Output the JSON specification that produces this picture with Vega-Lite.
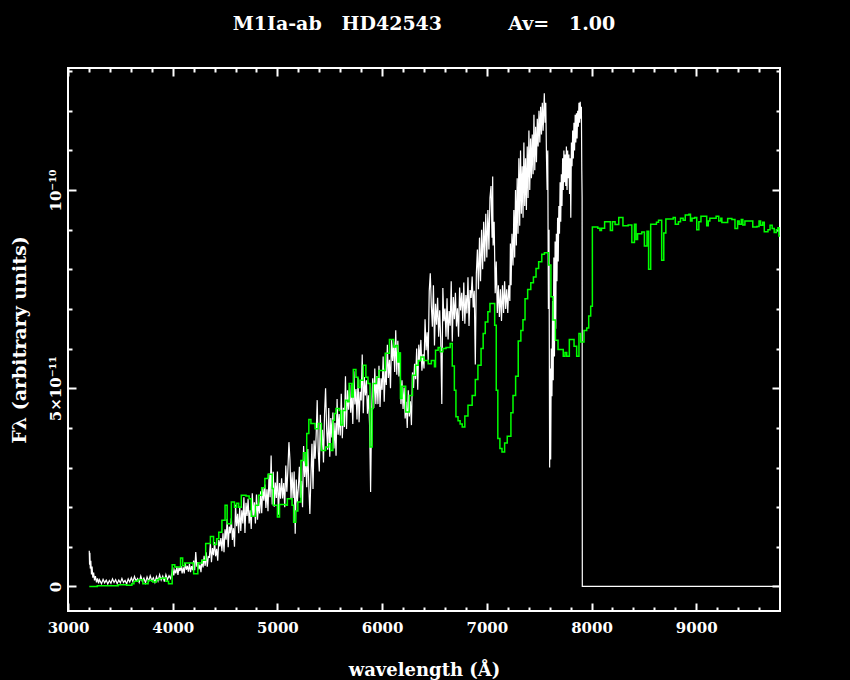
{
  "$schema": "https://vega.github.io/schema/vega-lite/v6.json",
  "width": 712,
  "height": 543,
  "autosize": {"type": "none"},
  "padding": {"left": 68, "top": 68, "right": 70, "bottom": 69},
  "background": "black",
  "view": {"stroke": "white", "strokeWidth": 2, "fill": "black"},
  "title": {
    "text": "M1Ia-ab\u00a0\u00a0\u00a0HD42543\u00a0\u00a0\u00a0\u00a0\u00a0\u00a0\u00a0\u00a0\u00a0\u00a0Av=\u00a0\u00a0\u00a01.00",
    "color": "white",
    "font": "DejaVu Serif",
    "fontSize": 19,
    "fontWeight": "bold",
    "anchor": "middle",
    "offset": 33
  },
  "config": {
    "axis": {
      "domain": false,
      "grid": false,
      "tickColor": "white",
      "tickWidth": 2,
      "labelColor": "white",
      "titleColor": "white",
      "labelFont": "DejaVu Serif",
      "titleFont": "DejaVu Serif",
      "labelFontSize": 15,
      "titleFontSize": 18,
      "labelFontWeight": "bold",
      "titleFontWeight": "bold",
      "labelFlush": false,
      "labelOverlap": false,
      "labelBound": false
    }
  },
  "datasets": {
    "white": [
      {"w":3203,"f":0.9},{"w":3206,"f":0.55},{"w":3209,"f":0.85},{"w":3213,"f":0.45},{"w":3218,"f":0.65},{"w":3224,"f":0.3},{"w":3230,"f":0.5},{"w":3237,"f":0.22},{"w":3245,"f":0.35},{"w":3253,"f":0.15},{"w":3262,"f":0.26},{"w":3272,"f":0.1},{"w":3282,"f":0.2},{"w":3292,"f":0.08},
      {"w":3300,"f":0.17},{"w":3320,"f":0.07},{"w":3335,"f":0.18},{"w":3350,"f":0.09},{"w":3365,"f":0.16},{"w":3380,"f":0.06},{"w":3395,"f":0.15},{"w":3410,"f":0.08},{"w":3425,"f":0.19},{"w":3440,"f":0.1},{"w":3455,"f":0.17},{"w":3470,"f":0.07},{"w":3485,"f":0.16},{"w":3500,"f":0.09},{"w":3515,"f":0.2},{"w":3530,"f":0.1},{"w":3545,"f":0.15},{"w":3560,"f":0.06},{"w":3575,"f":0.19},{"w":3590,"f":0.11},{"w":3605,"f":0.22},{"w":3620,"f":0.12},{"w":3635,"f":0.25},{"w":3650,"f":0.14},{"w":3665,"f":0.2},{"w":3680,"f":0.1},{"w":3695,"f":0.26},{"w":3710,"f":0.13},{"w":3725,"f":0.21},{"w":3740,"f":0.09},{"w":3755,"f":0.24},{"w":3770,"f":0.13},{"w":3785,"f":0.27},{"w":3800,"f":0.15},{"w":3815,"f":0.22},{"w":3830,"f":0.1},{"w":3845,"f":0.25},{"w":3860,"f":0.14},{"w":3875,"f":0.3},{"w":3890,"f":0.16},{"w":3905,"f":0.26},{"w":3920,"f":0.12},{"w":3935,"f":0.3},{"w":3950,"f":0.17},{"w":3965,"f":0.27},{"w":3980,"f":0.2},{"w":3993,"f":0.35},
      {"w":4000,"f":0.48},{"w":4010,"f":0.28},{"w":4020,"f":0.41},{"w":4030,"f":0.33},{"w":4040,"f":0.5},
      {"w":4050,"f":0.29},{"w":4060,"f":0.48},{"w":4070,"f":0.39},{"w":4080,"f":0.51},{"w":4090,"f":0.33},
      {"w":4100,"f":0.48},{"w":4110,"f":0.33},{"w":4120,"f":0.59},{"w":4130,"f":0.42},{"w":4140,"f":0.52},
      {"w":4150,"f":0.37},{"w":4160,"f":0.57},{"w":4170,"f":0.36},{"w":4180,"f":0.51},{"w":4190,"f":0.41},
      {"w":4200,"f":0.65},{"w":4210,"f":0.41},{"w":4220,"f":0.87},{"w":4230,"f":0.5},{"w":4240,"f":0.61},
      {"w":4250,"f":0.43},{"w":4260,"f":0.55},{"w":4270,"f":0.36},{"w":4280,"f":0.68},{"w":4290,"f":0.48},
      {"w":4300,"f":0.77},{"w":4310,"f":0.52},{"w":4320,"f":0.86},{"w":4330,"f":0.5},{"w":4340,"f":0.75},
      {"w":4350,"f":0.74},{"w":4360,"f":1.1},{"w":4370,"f":0.61},{"w":4380,"f":0.97},{"w":4390,"f":0.79},
      {"w":4400,"f":1.12},{"w":4410,"f":0.76},{"w":4420,"f":0.95},{"w":4430,"f":0.65},{"w":4440,"f":1.17},
      {"w":4450,"f":1.01},{"w":4460,"f":1.22},{"w":4470,"f":0.89},{"w":4480,"f":1.34},{"w":4490,"f":0.86},
      {"w":4500,"f":1.44},{"w":4510,"f":1.18},{"w":4520,"f":1.7},{"w":4530,"f":0.99},{"w":4540,"f":1.51},
      {"w":4550,"f":1.34},{"w":4560,"f":1.72},{"w":4570,"f":1.17},{"w":4580,"f":1.47},{"w":4590,"f":1.0},
      {"w":4600,"f":2.06},{"w":4610,"f":1.52},{"w":4620,"f":1.83},{"w":4630,"f":1.34},{"w":4640,"f":2.01},
      {"w":4650,"f":1.4},{"w":4660,"f":1.92},{"w":4670,"f":1.59},{"w":4680,"f":2.25},{"w":4690,"f":1.35},
      {"w":4700,"f":2.11},{"w":4710,"f":1.78},{"w":4720,"f":2.21},{"w":4730,"f":1.59},{"w":4740,"f":1.92},
      {"w":4750,"f":1.45},{"w":4760,"f":2.35},{"w":4770,"f":1.78},{"w":4780,"f":2.12},{"w":4790,"f":1.59},
      {"w":4800,"f":2.32},{"w":4810,"f":1.68},{"w":4820,"f":2.12},{"w":4830,"f":1.84},{"w":4840,"f":2.4},
      {"w":4850,"f":1.85},{"w":4860,"f":2.48},{"w":4870,"f":2.16},{"w":4880,"f":2.57},{"w":4890,"f":1.98},
      {"w":4900,"f":2.45},{"w":4910,"f":1.9},{"w":4920,"f":2.85},{"w":4930,"f":2.25},{"w":4940,"f":3.3},
      {"w":4950,"f":2.07},{"w":4960,"f":2.89},{"w":4970,"f":2.01},{"w":4980,"f":2.62},{"w":4990,"f":2.23},
      {"w":5000,"f":2.9},{"w":5010,"f":1.81},{"w":5020,"f":2.61},{"w":5030,"f":2.21},{"w":5040,"f":2.73},
      {"w":5050,"f":2.22},{"w":5060,"f":2.61},{"w":5070,"f":2.0},{"w":5080,"f":3.05},{"w":5090,"f":2.39},
      {"w":5100,"f":2.94},{"w":5110,"f":3.64},{"w":5120,"f":3.18},{"w":5130,"f":2.22},{"w":5140,"f":2.88},
      {"w":5150,"f":2.23},{"w":5160,"f":2.9},{"w":5170,"f":1.33},{"w":5180,"f":2.7},{"w":5190,"f":2.12},
      {"w":5200,"f":2.48},{"w":5210,"f":3.02},{"w":5220,"f":2.24},{"w":5230,"f":2.66},{"w":5240,"f":2.0},
      {"w":5250,"f":3.54},{"w":5260,"f":2.76},{"w":5270,"f":3.21},{"w":5280,"f":2.5},{"w":5290,"f":3.47},
      {"w":5300,"f":2.52},{"w":5310,"f":1.83},{"w":5320,"f":2.76},{"w":5330,"f":3.6},{"w":5340,"f":2.46},
      {"w":5350,"f":3.68},{"w":5360,"f":3.22},{"w":5370,"f":3.81},{"w":5380,"f":4.7},{"w":5390,"f":3.42},
      {"w":5400,"f":2.9},{"w":5410,"f":4.33},{"w":5420,"f":3.43},{"w":5430,"f":3.95},{"w":5440,"f":3.13},
      {"w":5450,"f":4.35},{"w":5460,"f":5.0},{"w":5470,"f":3.98},{"w":5480,"f":3.45},{"w":5490,"f":4.5},
      {"w":5500,"f":3.27},{"w":5510,"f":4.25},{"w":5520,"f":3.76},{"w":5530,"f":4.39},{"w":5540,"f":3.48},
      {"w":5550,"f":4.13},{"w":5560,"f":3.3},{"w":5570,"f":4.73},{"w":5580,"f":3.83},{"w":5590,"f":4.35},
      {"w":5600,"f":3.81},{"w":5610,"f":4.86},{"w":5620,"f":3.74},{"w":5630,"f":4.51},{"w":5640,"f":4.02},
      {"w":5650,"f":5.3},{"w":5660,"f":3.97},{"w":5670,"f":4.95},{"w":5680,"f":4.46},{"w":5690,"f":5.09},
      {"w":5700,"f":4.38},{"w":5710,"f":4.87},{"w":5720,"f":4.1},{"w":5730,"f":5.43},{"w":5740,"f":4.59},
      {"w":5750,"f":4.98},{"w":5760,"f":4.21},{"w":5770,"f":5.26},{"w":5780,"f":4.14},{"w":5790,"f":4.91},
      {"w":5800,"f":4.69},{"w":5810,"f":5.85},{"w":5820,"f":4.37},{"w":5830,"f":5.28},{"w":5840,"f":4.82},
      {"w":5850,"f":5.2},{"w":5860,"f":4.36},{"w":5870,"f":4.82},{"w":5880,"f":4.1},{"w":5890,"f":2.38},
      {"w":5900,"f":4.4},{"w":5910,"f":5.25},{"w":5920,"f":4.5},{"w":5930,"f":5.5},{"w":5940,"f":4.6},
      {"w":5950,"f":5.31},{"w":5960,"f":4.6},{"w":5970,"f":5.57},{"w":5980,"f":4.53},{"w":5990,"f":5.25},
      {"w":6000,"f":4.96},{"w":6010,"f":5.8},{"w":6020,"f":4.66},{"w":6030,"f":5.5},{"w":6040,"f":5.08},
      {"w":6050,"f":6.1},{"w":6060,"f":5.26},{"w":6070,"f":5.72},{"w":6080,"f":5.0},{"w":6090,"f":6.24},
      {"w":6100,"f":5.69},{"w":6110,"f":6.18},{"w":6120,"f":5.41},{"w":6130,"f":6.46},{"w":6140,"f":5.34},
      {"w":6150,"f":6.2},{"w":6160,"f":5.3},{"w":6170,"f":5.9},{"w":6180,"f":4.6},{"w":6190,"f":5.2},
      {"w":6200,"f":4.48},{"w":6210,"f":5.02},{"w":6220,"f":4.24},{"w":6230,"f":4.66},{"w":6240,"f":4.0},
      {"w":6250,"f":4.95},{"w":6260,"f":4.29},{"w":6270,"f":4.67},{"w":6280,"f":4.07},{"w":6290,"f":5.4},
      {"w":6300,"f":5.01},{"w":6310,"f":5.62},{"w":6320,"f":5.23},{"w":6330,"f":6.0},{"w":6340,"f":4.96},
      {"w":6350,"f":6.1},{"w":6360,"f":5.68},{"w":6370,"f":6.22},{"w":6380,"f":5.44},{"w":6390,"f":5.86},
      {"w":6400,"f":5.5},{"w":6410,"f":6.74},{"w":6420,"f":5.96},{"w":6430,"f":6.41},{"w":6440,"f":5.7},
      {"w":6450,"f":7.45},{"w":6460,"f":7.9},{"w":6470,"f":7.08},{"w":6480,"f":6.55},{"w":6490,"f":7.6},
      {"w":6500,"f":6.08},{"w":6510,"f":7.13},{"w":6520,"f":6.6},{"w":6530,"f":7.28},{"w":6540,"f":6.3},
      {"w":6550,"f":6.97},{"w":6560,"f":6.2},{"w":6570,"f":4.6},{"w":6580,"f":7.53},{"w":6590,"f":6.69},
      {"w":6600,"f":7.01},{"w":6610,"f":6.3},{"w":6620,"f":7.27},{"w":6630,"f":6.23},{"w":6640,"f":6.95},
      {"w":6650,"f":6.58},{"w":6660,"f":7.7},{"w":6670,"f":6.18},{"w":6680,"f":7.3},{"w":6690,"f":6.74},
      {"w":6700,"f":7.41},{"w":6710,"f":6.56},{"w":6720,"f":7.02},{"w":6730,"f":6.3},{"w":6740,"f":7.54},
      {"w":6750,"f":6.96},{"w":6760,"f":7.41},{"w":6770,"f":6.7},{"w":6780,"f":7.67},{"w":6790,"f":6.63},
      {"w":6800,"f":7.35},{"w":6810,"f":6.89},{"w":6820,"f":7.8},{"w":6830,"f":6.57},{"w":6840,"f":7.48},
      {"w":6850,"f":7.28},{"w":6860,"f":7.82},{"w":6870,"f":7.04},{"w":6880,"f":7.46},{"w":6890,"f":5.6},
      {"w":6900,"f":7.9},{"w":6910,"f":8.5},{"w":6920,"f":7.5},{"w":6930,"f":8.8},{"w":6940,"f":7.7},
      {"w":6950,"f":9.0},{"w":6960,"f":8.0},{"w":6970,"f":9.2},{"w":6980,"f":8.2},{"w":6990,"f":9.4},
      {"w":7000,"f":8.3},{"w":7010,"f":9.5},{"w":7020,"f":8.5},{"w":7030,"f":9.8},{"w":7040,"f":10.1},
      {"w":7050,"f":8.8},{"w":7056,"f":10.34},{"w":7060,"f":8.6},{"w":7070,"f":9.2},{"w":7080,"f":7.4},{"w":7090,"f":8.2},
      {"w":7100,"f":6.9},{"w":7110,"f":7.6},{"w":7120,"f":6.8},{"w":7130,"f":7.5},{"w":7140,"f":6.7},
      {"w":7150,"f":7.6},{"w":7160,"f":6.9},{"w":7170,"f":7.7},{"w":7180,"f":7.0},{"w":7190,"f":7.5},
      {"w":7200,"f":6.9},{"w":7210,"f":7.6},{"w":7220,"f":7.2},{"w":7225,"f":8.65},{"w":7232,"f":7.6},{"w":7240,"f":8.9},
      {"w":7250,"f":8.1},{"w":7258,"f":9.5},{"w":7266,"f":8.3},{"w":7274,"f":10.0},{"w":7282,"f":8.6},
      {"w":7290,"f":10.3},{"w":7298,"f":8.9},{"w":7306,"f":10.8},{"w":7314,"f":9.1},{"w":7322,"f":11.0},{"w":7330,"f":9.4},
      {"w":7338,"f":10.6},{"w":7346,"f":9.3},{"w":7354,"f":11.2},{"w":7362,"f":9.6},{"w":7370,"f":10.8},{"w":7378,"f":9.5},{"w":7386,"f":11.1},{"w":7394,"f":9.8},
      {"w":7402,"f":11.5},{"w":7410,"f":10.0},{"w":7418,"f":11.3},{"w":7426,"f":10.3},{"w":7434,"f":11.4},{"w":7442,"f":10.4},
      {"w":7450,"f":11.9},{"w":7458,"f":10.5},{"w":7466,"f":11.6},{"w":7474,"f":10.7},{"w":7482,"f":11.8},{"w":7490,"f":11.1},
      {"w":7498,"f":12.0},{"w":7506,"f":11.2},{"w":7514,"f":12.1},{"w":7522,"f":11.4},{"w":7530,"f":12.2},{"w":7538,"f":11.5},{"w":7549,"f":12.44},{"w":7556,"f":11.7},{"w":7563,"f":12.2},{"w":7570,"f":10.8},
      {"w":7576,"f":10.0},{"w":7582,"f":11.0},{"w":7588,"f":7.0},{"w":7594,"f":9.0},{"w":7600,"f":3.0},{"w":7605,"f":5.5},{"w":7610,"f":3.2},{"w":7616,"f":6.0},{"w":7622,"f":4.8},{"w":7628,"f":7.2},{"w":7634,"f":5.2},{"w":7640,"f":8.3},{"w":7646,"f":5.8},{"w":7652,"f":8.7},{"w":7658,"f":6.5},{"w":7664,"f":8.9},{"w":7670,"f":7.7},
      {"w":7676,"f":9.3},{"w":7682,"f":8.2},{"w":7688,"f":9.6},{"w":7694,"f":8.9},{"w":7700,"f":10.2},{"w":7706,"f":9.2},{"w":7712,"f":10.4},{"w":7718,"f":9.6},{"w":7724,"f":10.8},{"w":7730,"f":10.0},{"w":7736,"f":11.0},{"w":7742,"f":10.2},{"w":7748,"f":10.9},{"w":7754,"f":10.1},{"w":7760,"f":11.1},{"w":7766,"f":10.0},{"w":7772,"f":11.0},{"w":7778,"f":10.3},{"w":7784,"f":10.9},{"w":7790,"f":9.9},{"w":7796,"f":10.8},{"w":7802,"f":9.3},{"w":7808,"f":11.2},{"w":7814,"f":10.6},{"w":7820,"f":11.5},{"w":7826,"f":10.8},{"w":7832,"f":11.7},{"w":7838,"f":11.0},{"w":7844,"f":11.9},{"w":7850,"f":11.2},{"w":7856,"f":11.94},{"w":7862,"f":11.3},{"w":7868,"f":12.0},{"w":7874,"f":11.6},{"w":7880,"f":12.2},{"w":7886,"f":11.7},{"w":7892,"f":12.23},{"w":7898,"f":11.8},{"w":7903,"f":12.1},{"w":7907,"f":10.5},{"w":7910,"f":9.8},{"w":7912,"f":0},{"w":9800,"f":0}
    ],
    "green": [
      {"w":3203,"f":0},{"w":3280,"f":0.02},{"w":3480,"f":0.04},{"w":3560,"f":0.03},{"w":3610,"f":0.07},{"w":3630,"f":0.13},{"w":3670,"f":0.17},{"w":3715,"f":0.07},{"w":3765,"f":0.15},{"w":3810,"f":0.11},{"w":3845,"f":0.17},{"w":3870,"f":0.2},{"w":3905,"f":0.21},{"w":3935,"f":0.13},{"w":3960,"f":0.07},{"w":3995,"f":0.55},{"w":4020,"f":0.49},{"w":4075,"f":0.72},{"w":4095,"f":0.52},{"w":4115,"f":0.59},{"w":4200,"f":0.32},{"w":4240,"f":0.59},{"w":4280,"f":0.66},{"w":4315,"f":1.08},{"w":4360,"f":1.26},{"w":4390,"f":1.06},{"w":4420,"f":1.2},{"w":4440,"f":1.37},{"w":4470,"f":1.67},{"w":4500,"f":2.05},{"w":4520,"f":1.58},{"w":4560,"f":2.13},{"w":4590,"f":2.0},{"w":4610,"f":2.1},{"w":4630,"f":2.0},{"w":4655,"f":2.3},{"w":4700,"f":2.28},{"w":4730,"f":2.21},{"w":4750,"f":1.77},{"w":4790,"f":2.05},{"w":4820,"f":2.3},{"w":4850,"f":2.49},{"w":4880,"f":2.72},{"w":4910,"f":2.83},{"w":4950,"f":2.47},{"w":4960,"f":2.05},{"w":5000,"f":1.75},{"w":5020,"f":2.07},{"w":5080,"f":2.05},{"w":5095,"f":2.21},{"w":5140,"f":2.05},{"w":5155,"f":1.62},{"w":5175,"f":1.9},{"w":5195,"f":2.13},{"w":5225,"f":3.18},{"w":5250,"f":3.37},{"w":5270,"f":3.05},{"w":5280,"f":3.86},{"w":5300,"f":4.21},{"w":5320,"f":4.11},{"w":5360,"f":3.98},{"w":5390,"f":4.11},{"w":5420,"f":3.43},{"w":5460,"f":3.52},{"w":5490,"f":3.6},{"w":5510,"f":3.43},{"w":5530,"f":4.19},{"w":5545,"f":4.36},{"w":5560,"f":4.49},{"w":5590,"f":4.44},{"w":5605,"f":4.07},{"w":5625,"f":4.44},{"w":5650,"f":4.7},{"w":5670,"f":4.66},{"w":5685,"f":5.12},{"w":5710,"f":4.78},{"w":5725,"f":5.47},{"w":5750,"f":5.28},{"w":5770,"f":5.02},{"w":5790,"f":5.2},{"w":5820,"f":5.58},{"w":5845,"f":5.28},{"w":5865,"f":5.12},{"w":5885,"f":3.52},{"w":5905,"f":4.49},{"w":5915,"f":5.12},{"w":5945,"f":5.28},{"w":5970,"f":5.45},{"w":6030,"f":5.88},{"w":6070,"f":6.23},{"w":6110,"f":6.04},{"w":6130,"f":6.08},{"w":6150,"f":5.66},{"w":6160,"f":5.89},{"w":6175,"f":4.74},{"w":6190,"f":5.05},{"w":6225,"f":4.4},{"w":6260,"f":4.82},{"w":6290,"f":5.33},{"w":6320,"f":5.58},{"w":6345,"f":5.7},{"w":6370,"f":5.79},{"w":6400,"f":5.7},{"w":6440,"f":5.62},{"w":6470,"f":5.7},{"w":6500,"f":5.54},{"w":6510,"f":5.96},{"w":6535,"f":6.03},{"w":6555,"f":5.92},{"w":6580,"f":6.0},{"w":6610,"f":6.03},{"w":6650,"f":6.13},{"w":6670,"f":5.56},{"w":6690,"f":4.95},{"w":6705,"f":4.28},{"w":6725,"f":4.18},{"w":6745,"f":4.1},{"w":6765,"f":4.02},{"w":6790,"f":4.3},{"w":6820,"f":4.57},{"w":6860,"f":4.82},{"w":6890,"f":5.22},{"w":6915,"f":5.58},{"w":6945,"f":6.0},{"w":6965,"f":6.38},{"w":6985,"f":6.67},{"w":7010,"f":6.93},{"w":7030,"f":7.14},{"w":7075,"f":6.59},{"w":7090,"f":4.95},{"w":7105,"f":3.73},{"w":7125,"f":3.48},{"w":7145,"f":3.39},{"w":7170,"f":3.62},{"w":7195,"f":3.79},{"w":7230,"f":4.38},{"w":7250,"f":4.82},{"w":7275,"f":5.3},{"w":7300,"f":6.19},{"w":7325,"f":6.46},{"w":7345,"f":6.73},{"w":7365,"f":7.26},{"w":7390,"f":7.49},{"w":7420,"f":7.66},{"w":7445,"f":7.81},{"w":7470,"f":8.02},{"w":7495,"f":8.19},{"w":7525,"f":8.38},{"w":7550,"f":8.42},{"w":7590,"f":8.11},{"w":7612,"f":7.31},{"w":7632,"f":6.72},{"w":7655,"f":6.21},{"w":7680,"f":5.98},{"w":7730,"f":5.81},{"w":7747,"f":5.9},{"w":7763,"f":5.81},{"w":7788,"f":6.23},{"w":7833,"f":6.06},{"w":7858,"f":5.81},{"w":7880,"f":6.38},{"w":7897,"f":6.17},{"w":7928,"f":6.46},{"w":7954,"f":6.52},{"w":7973,"f":6.82},{"w":7992,"f":7.07},{"w":8008,"f":9.07},{"w":8060,"f":9.04},{"w":8080,"f":8.98},{"w":8095,"f":9.04},{"w":8125,"f":9.2},{"w":8180,"f":8.98},{"w":8200,"f":9.2},{"w":8225,"f":9.13},{"w":8260,"f":9.31},{"w":8300,"f":9.1},{"w":8350,"f":9.12},{"w":8385,"f":8.68},{"w":8410,"f":9.14},{"w":8425,"f":8.75},{"w":8440,"f":8.9},{"w":8480,"f":8.94},{"w":8505,"f":8.59},{"w":8530,"f":8.96},{"w":8545,"f":8.0},{"w":8565,"f":9.14},{"w":8620,"f":9.19},{"w":8640,"f":9.24},{"w":8670,"f":8.23},{"w":8690,"f":8.92},{"w":8710,"f":9.27},{"w":8780,"f":9.31},{"w":8800,"f":9.14},{"w":8830,"f":9.2},{"w":8850,"f":9.29},{"w":8875,"f":9.24},{"w":8895,"f":9.37},{"w":8930,"f":9.39},{"w":8945,"f":9.22},{"w":8960,"f":9.29},{"w":8985,"f":9.31},{"w":9005,"f":9.0},{"w":9025,"f":9.2},{"w":9045,"f":9.34},{"w":9100,"f":9.1},{"w":9115,"f":9.22},{"w":9130,"f":9.29},{"w":9190,"f":9.34},{"w":9215,"f":9.22},{"w":9235,"f":9.29},{"w":9245,"f":9.18},{"w":9300,"f":9.28},{"w":9340,"f":9.26},{"w":9370,"f":9.03},{"w":9395,"f":9.22},{"w":9410,"f":9.14},{"w":9430,"f":9.26},{"w":9445,"f":9.12},{"w":9465,"f":9.22},{"w":9540,"f":9.07},{"w":9580,"f":9.08},{"w":9600,"f":9.22},{"w":9615,"f":9.11},{"w":9635,"f":9.19},{"w":9650,"f":8.95},{"w":9685,"f":9.0},{"w":9705,"f":9.11},{"w":9725,"f":9.03},{"w":9745,"f":8.93},{"w":9765,"f":9.0},{"w":9780,"f":9.05},{"w":9790,"f":8.84},{"w":9800,"f":8.84}
    ]
  },
  "resolve": {"axis": {"x": "independent", "y": "independent"}},
  "layer": [
    {
      "data": {"name": "white"},
      "mark": {"type": "line", "color": "white", "strokeWidth": 1.2, "clip": true},
      "encoding": {
        "x": {"field": "w", "type": "quantitative", "scale": {"domain": [3000, 9800], "nice": false, "zero": false},
          "axis": {"orient": "bottom", "values": [3000,4000,5000,6000,7000,8000,9000], "format": "d", "tickSize": -8, "labelPadding": 17, "title": "wavelength (\u00c5)", "titlePadding": 26}},
        "y": {"field": "f", "type": "quantitative", "scale": {"domain": [-0.62, 13.08], "nice": false, "zero": false},
          "axis": {"orient": "left", "values": [0, 5, 10], "tickSize": -8, "labelAngle": 270, "labelAlign": "center", "labelBaseline": "bottom", "labelPadding": 13,
            "labelExpr": "datum.value == 0 ? '0' : (datum.value == 5 ? '5\u00d710\u207b\u00b9\u00b9' : '10\u207b\u00b9\u2070')",
            "title": "F\u03bb (arbitrary units)", "titleFontSize": 19, "titlePadding": 19}}
      }
    },
    {
      "data": {"name": "green"},
      "mark": {"type": "line", "color": "#00ff00", "strokeWidth": 1.5, "interpolate": "step-after", "clip": true},
      "encoding": {
        "x": {"field": "w", "type": "quantitative",
          "axis": {"orient": "bottom", "values": [3200,3400,3600,3800,4200,4400,4600,4800,5200,5400,5600,5800,6200,6400,6600,6800,7200,7400,7600,7800,8200,8400,8600,8800,9200,9400,9600], "tickSize": -4, "labels": false, "title": null}},
        "y": {"field": "f", "type": "quantitative",
          "axis": {"orient": "left", "values": [1,2,3,4,6,7,8,9,11,12,13], "tickSize": -4, "labels": false, "title": null}}
      }
    },
    {
      "data": {"name": "green"},
      "mark": {"type": "line", "opacity": 0},
      "encoding": {
        "x": {"field": "w", "type": "quantitative",
          "axis": {"orient": "top", "values": [3000,4000,5000,6000,7000,8000,9000], "tickSize": -8, "labels": false, "title": null}},
        "y": {"field": "f", "type": "quantitative",
          "axis": {"orient": "right", "values": [0, 5, 10], "tickSize": -8, "labels": false, "title": null}}
      }
    },
    {
      "data": {"name": "green"},
      "mark": {"type": "line", "opacity": 0},
      "encoding": {
        "x": {"field": "w", "type": "quantitative",
          "axis": {"orient": "top", "values": [3200,3400,3600,3800,4200,4400,4600,4800,5200,5400,5600,5800,6200,6400,6600,6800,7200,7400,7600,7800,8200,8400,8600,8800,9200,9400,9600], "tickSize": -4, "labels": false, "title": null}},
        "y": {"field": "f", "type": "quantitative",
          "axis": {"orient": "right", "values": [1,2,3,4,6,7,8,9,11,12,13], "tickSize": -4, "labels": false, "title": null}}
      }
    }
  ]
}
